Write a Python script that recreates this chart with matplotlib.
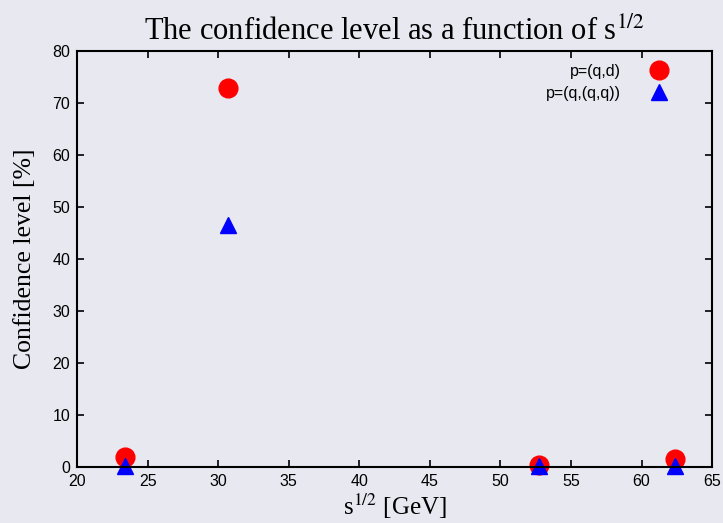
import matplotlib.pyplot as plt

plt.rcParams['mathtext.fontset'] = 'stix'

# centre-of-mass energies and confidence levels for the two models
energies = [23.4, 30.7, 52.7, 62.4]
cl_qd = [1.9, 73.0, 0.4, 1.5]
cl_qqq = [0.2, 46.5, 0.2, 0.2]

fig = plt.figure(figsize=(7.23, 5.23), dpi=100, facecolor='#e8e8f1')
ax = fig.add_axes([0.1065, 0.107, 0.8785, 0.795])
ax.set_facecolor('#e8e8f1')

ax.plot(energies, cl_qd, 'o', color='red', markersize=13.5, label='p=(q,d)', clip_on=False)
ax.plot(energies, cl_qqq, '^', color='blue', markersize=12, label='p=(q,(q,q))', clip_on=False)

ax.set_xlim(20, 65)
ax.set_ylim(0, 80)
ax.set_xticks(range(20, 66, 5))
ax.set_yticks(range(0, 81, 10))
ax.tick_params(direction='in', length=5, width=1.2, top=True, right=True,
               labelsize=11.5, pad=5, colors='black')
for lbl in ax.get_xticklabels() + ax.get_yticklabels():
    lbl.set_family('Liberation Sans')
for sp in ax.spines.values():
    sp.set_linewidth(1.5)

serif = 'Liberation Serif'
ax.set_title(r'The confidence level as a function of s$^{1/2}$', family=serif,
             fontsize=22, pad=8)
ax.set_xlabel(r's$^{1/2}$ [GeV]', family=serif, fontsize=18, labelpad=2)
ax.set_ylabel('Confidence level [%]', family=serif, fontsize=18.5, labelpad=12)

ax.legend(loc='upper right', frameon=False, markerfirst=False,
          prop={'family': 'Liberation Sans', 'size': 11.5},
          handletextpad=1.6, borderaxespad=0, labelspacing=0.45, handlelength=1.5,
          bbox_to_anchor=(0.945, 0.985))

fig.savefig('out.png', dpi=100, facecolor=fig.get_facecolor())
